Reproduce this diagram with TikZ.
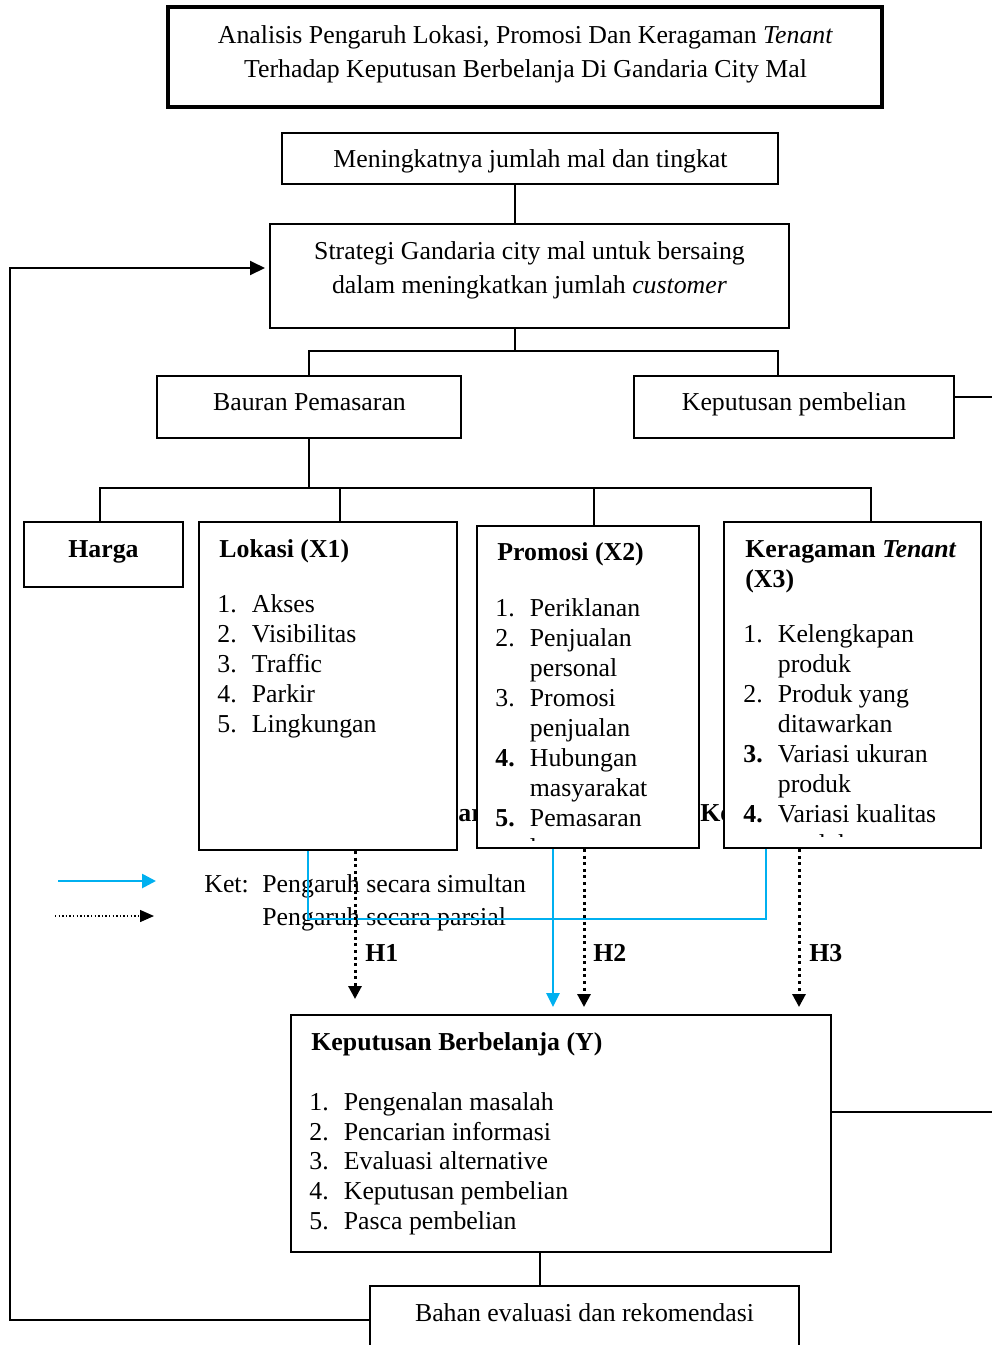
\documentclass[tikz,border=0pt]{standalone}
\usepackage{fontspec}
\setmainfont{Liberation Serif}
\usetikzlibrary{arrows.meta,calc}
\definecolor{simblue}{RGB}{0,176,240}
\newcommand\fs{\rule{0pt}{10.5pt}}
\newcommand\itm[2]{\makebox[17.25pt][l]{#1}#2}
\newcommand\cnt[1]{\hspace*{17.25pt}#1}
\begin{document}
\begin{tikzpicture}[x=0.5pt,y=-0.5pt,
  font=\fontsize{12.9pt}{15pt}\selectfont,
  box/.style={draw, line width=1pt, fill=white, inner sep=0pt},
  ln/.style={line width=1pt},
  txt/.style={inner sep=0pt, align=left, anchor=north west},
  ctext/.style={inner sep=0pt, align=center, anchor=north, font=\fontsize{12.9pt}{17pt}\selectfont},
  lbl/.style={inner sep=0pt, anchor=base},
  lblw/.style={inner sep=0pt, anchor=base west},
  bld/.style={font=\fontsize{12.9pt}{15pt}\selectfont\bfseries},
  blktip/.style={-{Triangle[length=6.5pt,width=6.5pt]}},
  dotline/.style={line width=1.5pt, dash pattern=on 1.5pt off 1.8pt},
  simul/.style={line width=1.35pt, draw=simblue},
]
\useasboundingbox (0,0) rectangle (992,1345);

% partly hidden fragments
\node[lblw, bld] (fragA) at (458,821) {ar};
\node[lblw, bld] (fragB) at (700,821) {Ke};

% boxes
\node[box, line width=1.75pt, minimum width=357pt, minimum height=50pt] (T) at (525,57) {};
\node[box, minimum width=248pt, minimum height=25.5pt] (A) at (530,158.5) {};
\node[box, minimum width=259.5pt, minimum height=52pt] (B) at (529.5,276) {};
\node[box, minimum width=152pt, minimum height=31pt] (Bauran) at (309,407) {};
\node[box, minimum width=160pt, minimum height=31pt] (Keput) at (794,407) {};
\node[box, minimum width=79.5pt, minimum height=32.5pt] (Harga) at (103.5,554.5) {};
\node[box, minimum width=129pt, minimum height=164pt] (Lokasi) at (328,686) {};
\node[box, minimum width=111pt, minimum height=161pt] (Promosi) at (588,687) {};
\node[box, minimum width=128.5pt, minimum height=163pt] (Keragaman) at (852.5,685) {};
\node[box, minimum width=270pt, minimum height=118.5pt] (Y) at (561,1133.5) {};
\node[box, minimum width=214.5pt, minimum height=57pt] (Bahan) at (584.5,1343) {};

% texts
\node[ctext] (Ttx) at (525.5,22) {\fs Analisis Pengaruh Lokasi, Promosi Dan Keragaman \textit{Tenant}\\Terhadap Keputusan Berbelanja Di Gandaria City Mal};
\node[lbl] (Atx) at (530.5,167) {Meningkatnya jumlah mal dan tingkat};
\node[ctext] (Btx) at (529.5,238) {\fs Strategi Gandaria city mal untuk bersaing\\dalam meningkatkan jumlah \textit{customer}};
\node[lbl] (Bauantx) at (309.5,410) {Bauran Pemasaran};
\node[lbl] (Keputtx) at (794,410) {Keputusan pembelian};
\node[lbl, bld] (Hargatx) at (103.5,557) {Harga};

\node[lblw, bld] (Lokt) at (219,557) {Lokasi (X1)};
\node[txt] (Lokl) at (217,591) {\fs\itm{1.}{Akses}\\\itm{2.}{Visibilitas}\\\itm{3.}{Traffic}\\\itm{4.}{Parkir}\\\itm{5.}{Lingkungan}};

\node[lblw, bld] (Prot) at (497,560) {Promosi (X2)};
\begin{scope}
\clip (478,527) rectangle (698,840);
\node[txt] (Prol) at (495,595) {\fs\itm{1.}{Periklanan}\\\itm{2.}{Penjualan}\\\cnt{personal}\\\itm{3.}{Promosi}\\\cnt{penjualan}\\\itm{\textbf{4.}}{Hubungan}\\\cnt{masyarakat}\\\itm{\textbf{5.}}{Pemasaran}\\\cnt{langsung}};
\end{scope}

\node[txt] (Kert) at (745,536) {\fs\textbf{Keragaman \textit{Tenant}}\\\textbf{(X3)}};
\begin{scope}
\clip (725,523) rectangle (980,836);
\node[txt] (Kerl) at (743,621) {\fs\itm{1.}{Kelengkapan}\\\cnt{produk}\\\itm{2.}{Produk yang}\\\cnt{ditawarkan}\\\itm{\textbf{3.}}{Variasi ukuran}\\\cnt{produk}\\\itm{\textbf{4.}}{Variasi kualitas}\\\cnt{produk}};
\end{scope}

\node[lblw, bld] (Yt) at (311,1050) {Keputusan Berbelanja (Y)};
\node[txt, font=\fontsize{12.9pt}{14.875pt}\selectfont] (Yl) at (309,1089) {\fs\itm{1.}{Pengenalan masalah}\\\itm{2.}{Pencarian informasi}\\\itm{3.}{Evaluasi alternative}\\\itm{4.}{Keputusan pembelian}\\\itm{5.}{Pasca pembelian}};

\node[lbl] (Bahantx) at (584.5,1321) {Bahan evaluasi dan rekomendasi};

\node[lblw] (ket) at (204,892) {Ket:};
\node[lblw] (sim) at (262,892) {Pengaruh secara simultan};
\node[lblw] (par) at (262,925) {Pengaruh secara parsial};

\node[lblw, bld] (H1) at (365,961) {H1};
\node[lblw, bld] (H2) at (593,961) {H2};
\node[lblw, bld] (H3) at (809,961) {H3};

% helper coordinates
\coordinate (cx515) at (515,0);
\coordinate (cy351) at (0,351);
\coordinate (cx778) at (778,0);
\coordinate (kr) at (992,397);
\coordinate (cy488) at (0,488);
\coordinate (cx100) at (100,0);
\coordinate (cx340) at (340,0);
\coordinate (cx594) at (594,0);
\coordinate (cx871) at (871,0);
\coordinate (cx10) at (10,0);
\coordinate (cy268) at (0,268);
\coordinate (cy1320) at (0,1320);
\coordinate (yr) at (992,1112);
\coordinate (cx540) at (540,0);
\coordinate (cx355) at (355,0);
\coordinate (cx584) at (584,0);
\coordinate (cx799) at (799,0);
\coordinate (cx308) at (308,0);
\coordinate (cx766) at (766,0);
\coordinate (cy919) at (0,919);
\coordinate (cx553) at (553,0);
\coordinate (lg1a) at (58,881);
\coordinate (lg1b) at (156,881);
\coordinate (lg2a) at (55,916);
\coordinate (lg2b) at (154,916);

% connectors
\draw[ln] (A.south -| cx515) -- (B.north -| cx515);
\draw[ln] (B.south -| cx515) -- (cx515 |- cy351);
\draw[ln] (Bauran.north) |- (cx778 |- cy351) -- (Keput.north -| cx778);
\draw[ln] (Keput.east |- kr) -- (kr);
\draw[ln] (Bauran.south) -- (Bauran.south |- cy488);
\draw[ln] (Harga.north -| cx100) |- (cx871 |- cy488) -- (Keragaman.north -| cx871);
\draw[ln] (Lokasi.north -| cx340) -- (cx340 |- cy488);
\draw[ln] (Promosi.north -| cx594) -- (cx594 |- cy488);
\draw[ln] (Y.east |- yr) -- (yr);
\draw[ln] (Y.south -| cx540) -- (Bahan.north -| cx540);
\draw[ln, -{Triangle[length=7.5pt,width=7pt]}, shorten >=2pt] (Bahan.west |- cy1320) -| (cx10 |- cy268) -- (B.west |- cy268);

\draw[simul] (Lokasi.south -| cx308) |- (cx766 |- cy919) -- (Keragaman.south -| cx766);
\draw[simul, -{Triangle[length=7pt,width=6.5pt]}, shorten >=3.5pt] (Promosi.south -| cx553) -- (Y.north -| cx553);

\draw[dotline, blktip, shorten >=7.5pt] (Lokasi.south -| cx355) -- (Y.north -| cx355);
\draw[dotline, blktip, shorten >=3.5pt] (Promosi.south -| cx584) -- (Y.north -| cx584);
\draw[dotline, blktip, shorten >=3.5pt] (Keragaman.south -| cx799) -- (Y.north -| cx799);

\draw[simul, -{Triangle[length=7pt,width=7pt]}] (lg1a) -- (lg1b);
\draw[line width=0.7pt, dash pattern=on 0.7pt off 1.1pt, -{Triangle[length=7pt,width=6pt]}] (lg2a) -- (lg2b);
\end{tikzpicture}
\end{document}
